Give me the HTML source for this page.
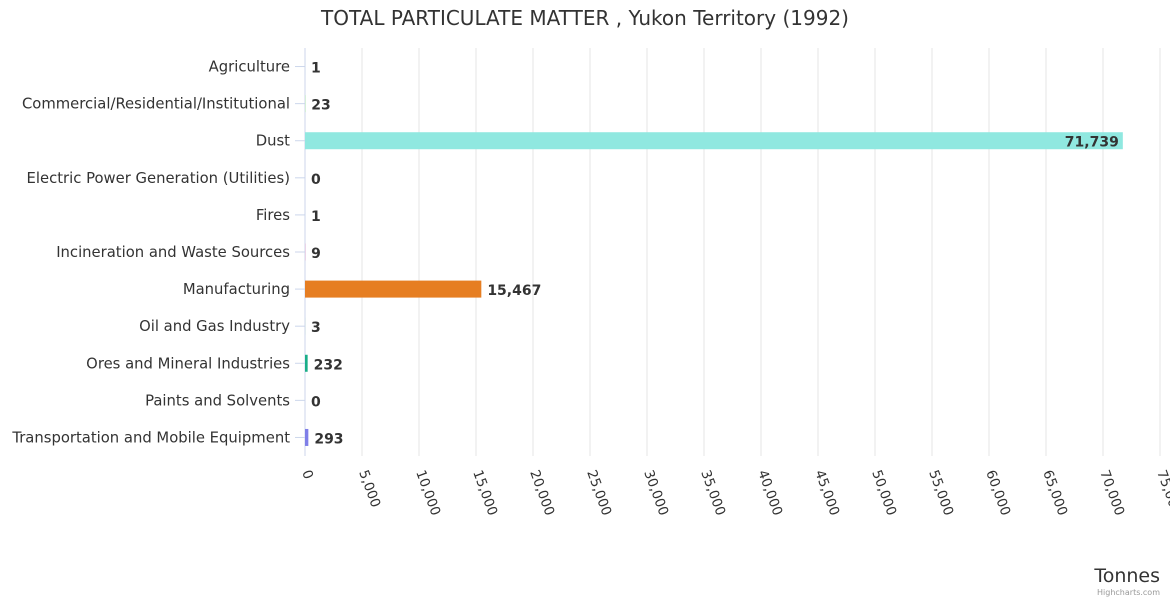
<!DOCTYPE html>
<html><head><meta charset="utf-8"><style>
body{margin:0;background:#fff;}
svg{font-family:"DejaVu Sans","Liberation Sans",sans-serif;}
</style></head><body>
<svg id="c" width="1170" height="600" xmlns="http://www.w3.org/2000/svg">
<text x="585" y="25" text-anchor="middle" font-size="20" fill="#333">TOTAL PARTICULATE MATTER , Yukon Territory (1992)</text>
<g id="grid"></g><g id="bars"></g><g id="cats"></g><g id="xt"></g>
<text x="1160" y="582" text-anchor="end" font-size="19" fill="#333">Tonnes</text>
<text x="1160" y="595" text-anchor="end" font-size="8" fill="#999">Highcharts.com</text>
</svg>
<script>
const categories=["Agriculture","Commercial/Residential/Institutional","Dust","Electric Power Generation (Utilities)","Fires","Incineration and Waste Sources","Manufacturing","Oil and Gas Industry","Ores and Mineral Industries","Paints and Solvents","Transportation and Mobile Equipment"];
const values=[1,23,71739,0,1,9,15467,3,232,0,293];
const colors=["#2b908f","#90ee7e","#90e8e0","#7798bf","#aaeeee","#ff0066","#e67e22","#55bf3b","#1aae88","#7798bf","#7f7fe8"];
const ticks=[0,5000,10000,15000,20000,25000,30000,35000,40000,45000,50000,55000,60000,65000,70000,75000];
const NS="http://www.w3.org/2000/svg";
const x0=305,x1=1160,plotTop=48,plotBot=456,xmax=75000;
const xs=v=>x0+v/xmax*(x1-x0);
const band=(plotBot-plotTop)/categories.length;
const yc=i=>plotTop+band*(i+0.5);
function mk(t,a,p){const e=document.createElementNS(NS,t);for(const k in a)e.setAttribute(k,a[k]);p.appendChild(e);return e;}
const fmt=v=>v.toLocaleString("en-US");
const G=document.getElementById("grid"),B=document.getElementById("bars"),C=document.getElementById("cats"),X=document.getElementById("xt");
ticks.forEach(t=>{
 const x=xs(t);
 if(t>0){const l=mk("line",{x1:x,x2:x,y1:plotTop,y2:plotBot,stroke:"#e6e6e6"},G);
 
 }
 const tx=mk("text",{x:x-3,y:plotBot+16,"font-size":13.5,fill:"#333",transform:`rotate(70 ${x-3} ${plotBot+16})`},X);
 tx.textContent=fmt(t);
 
 
});
const ax=mk("line",{x1:x0,x2:x0,y1:plotTop,y2:plotBot,stroke:"#ccd6eb"},G);


categories.forEach((c,i)=>{
 const y=yc(i);
 const tk=mk("line",{x1:x0-10,x2:x0,y1:y,y2:y,stroke:"#ccd6eb"},C);
 
 
 const t=mk("text",{x:x0-15,y:y+5,"text-anchor":"end","font-size":14.8,fill:"#333"},C);
 t.textContent=c;
 
 
 const w=xs(values[i])-x0;
 const r=mk("rect",{x:x0,y:y-8.5,width:Math.max(w,0),height:17,fill:colors[i]},B);
 
 
 const inside=w>700;
 const lb=mk("text",{x:inside?x0+w-4:x0+w+6,y:y+6,"text-anchor":inside?"end":"start","font-size":14,"font-weight":"bold",fill:"#333"},B);
 lb.textContent=fmt(values[i]);
 
 
});
</script>
</body></html>
